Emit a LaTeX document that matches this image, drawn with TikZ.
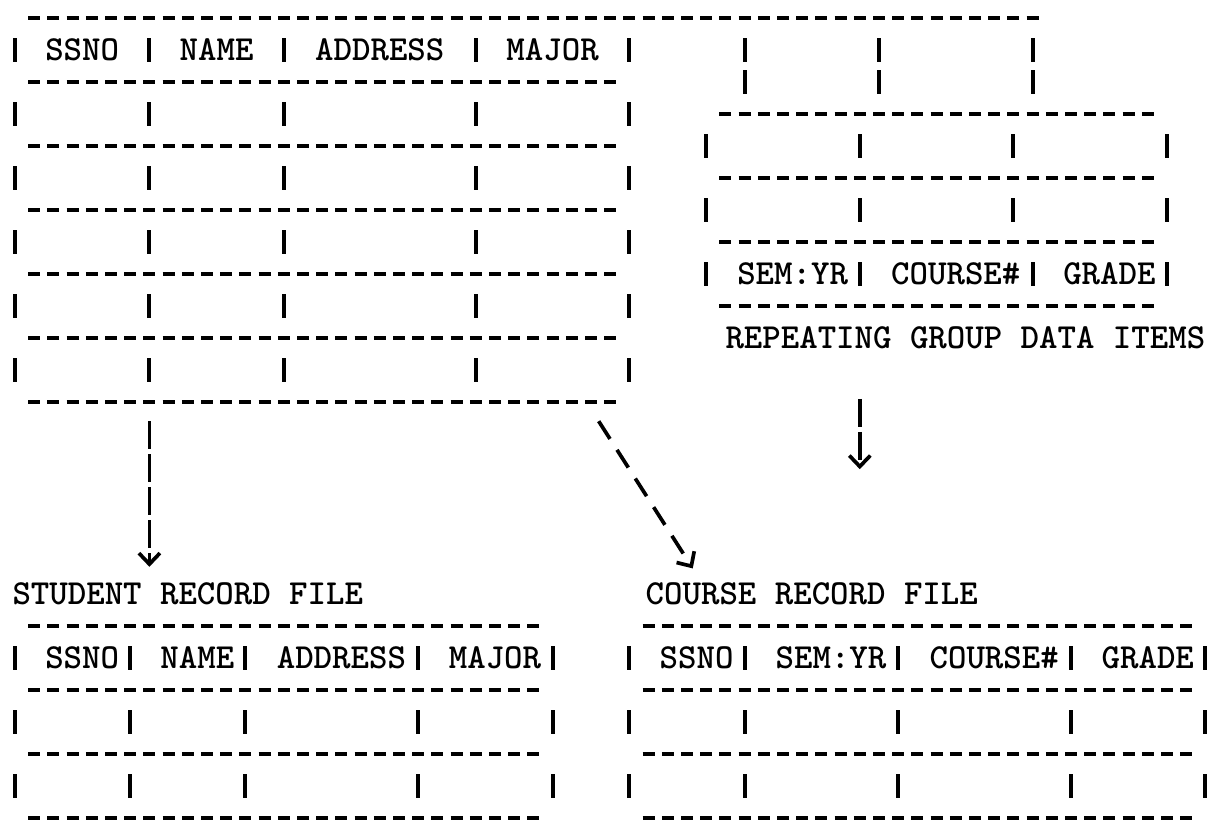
\documentclass[tikz,border=0pt]{standalone}
\usetikzlibrary{arrows.meta}

\begin{document}
\begin{tikzpicture}[
  x=0.384cm, y=-0.64cm,
  hrule/.style={line width=2.3pt, dash pattern=on 0.238cm off 0.146cm},
  vrule/.style={line width=2.3pt},
  lbl/.style={font=\ttfamily\bfseries\fontsize{20}{22}\selectfont,
              inner sep=0pt, text depth=0pt},
  flow/.style={line width=2.1pt, dash pattern=on 0.56cm off 0.1cm,
               -{Straight Barb[length=0.22cm,width=0.42cm]}},
  flowd/.style={flow, dash pattern=on 0.42cm off 0.26cm}
]
  \fill[white] (-0.78125,-0.5625) rectangle (63.28125,25.28125);
  \useasboundingbox (-0.78125,-0.5625) rectangle (63.28125,25.28125);

  % Student table with repeating group
  \draw[hrule] (0.69,0) -- (53.31,0);
  \foreach \r in {2,4,...,12}
    \draw[hrule] (0.69,\r) -- (31.31,\r);
  \foreach \r in {1,3,...,11}
    \foreach \c in {0,7,14,24,32}
      \draw[vrule] (\c,\r-0.37) -- (\c,\r+0.37);
  \node[lbl] (tssno) at (3.5,1)  {SSNO};
  \node[lbl] (tname) at (10.5,1) {NAME};
  \node[lbl] (taddr) at (19,1)   {ADDRESS};
  \node[lbl] (tmajor) at (28,1)  {MAJOR};
  \foreach \r in {1,2}
    \foreach \c in {38,45,53}
      \draw[vrule] (\c,\r-0.37) -- (\c,\r+0.37);

  % Repeating group
  \foreach \r in {3,5,7,9}
    \draw[hrule] (36.69,\r) -- (59.31,\r);
  \foreach \r in {4,6}
    \foreach \c in {36,44,52,60}
      \draw[vrule] (\c,\r-0.37) -- (\c,\r+0.37);
  \foreach \c in {36,44,53,60}
    \draw[vrule] (\c,8-0.37) -- (\c,8+0.37);
  \node[lbl] (gsem)    at (40.5,8) {SEM:YR};
  \node[lbl] (gcourse) at (49,8)   {COURSE\#};
  \node[lbl] (ggrade)  at (57,8)   {GRADE};
  \node[lbl] (rep)     at (49.5,10) {REPEATING GROUP DATA ITEMS};

  % Student record file
  \node[lbl] (stufile) at (9,18) {STUDENT RECORD FILE};
  \foreach \r in {19,21,23,25}
    \draw[hrule] (0.69,\r) -- (27.31,\r);
  \foreach \r in {20,22,24}
    \foreach \c in {0,6,12,21,28}
      \draw[vrule] (\c,\r-0.37) -- (\c,\r+0.37);
  \node[lbl] (sssno)  at (3.5,20) {SSNO};
  \node[lbl] (sname)  at (9.5,20) {NAME};
  \node[lbl] (saddr)  at (17,20)  {ADDRESS};
  \node[lbl] (smajor) at (25,20)  {MAJOR};

  % Course record file
  \node[lbl] (crsfile) at (41.5,18) {COURSE RECORD FILE};
  \foreach \r in {19,21,23,25}
    \draw[hrule] (32.69,\r) -- (61.31,\r);
  \foreach \r in {20,22,24}
    \foreach \c in {32,38,46,55,62}
      \draw[vrule] (\c,\r-0.37) -- (\c,\r+0.37);
  \node[lbl] (cssno)   at (35.5,20) {SSNO};
  \node[lbl] (csem)    at (42.5,20) {SEM:YR};
  \node[lbl] (ccourse) at (51,20)   {COURSE\#};
  \node[lbl] (cgrade)  at (59,20)   {GRADE};

  % Arrows
  \coordinate (stusrc) at (7,12.6);
  \coordinate (stutip) at (7,17.15);
  \coordinate (crssrc) at (30.4,12.6);
  \coordinate (crstip) at (35.3,17.2);
  \coordinate (repsrc) at (44,11.9);
  \coordinate (reptip) at (44,14.1);
  \draw[flow] (stusrc) -- (stutip);
  \draw[flowd] (crssrc) -- (crstip);
  \draw[flow] (repsrc) -- (reptip);
\end{tikzpicture}
\end{document}
